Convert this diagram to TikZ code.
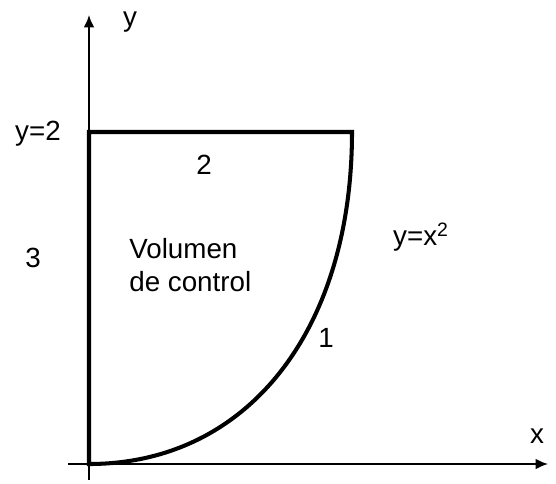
\documentclass[tikz,border=0pt]{standalone}
\usepackage{fontspec}
\setmainfont{Liberation Sans}
\usepackage{tikz}
\usetikzlibrary{arrows.meta}
\tikzstyle{axis} = [line width=1.1pt,-{Latex[length=7pt,width=6pt]}]
\tikzstyle{boundary} = [line width=2.3pt,line join=miter]
\tikzstyle{lbl} = [font=\fontsize{15.8}{18.5}\selectfont,inner sep=0pt]

\begin{document}
\begin{tikzpicture}
    \useasboundingbox (0,0) rectangle (11.12,9.66);
    \coordinate (o) at (1.78,0.38);
    \coordinate (a) at (1.78,7.02);
    \coordinate (b) at (7.04,7.02);
    \coordinate (xstart) at (1.36,0.38);
    \coordinate (xend) at (10.96,0.38);
    \coordinate (ystart) at (1.78,0.06);
    \coordinate (yend) at (1.78,9.36);

    % Axes
    \draw[axis] (xstart) -- (xend);
    \draw[axis] (ystart) -- (yend);
    \node[lbl] (xlab) at (10.74,0.94) {x};
    \node[lbl] (ylab) at (2.6,9.22) {y};

    % Control volume
    \draw[boundary] (o) .. controls (4.94,0.38) and (7.04,3.04) .. (b) -- (a) -- cycle;

    % Labels
    \node[lbl] (ytwo) at (0.76,6.98) {y=2};
    \node[lbl] (side2) at (4.08,6.36) {2};
    \node[lbl] (side3) at (0.66,4.50) {3};
    \node[lbl] (side1) at (6.52,2.90) {1};
    \node[lbl,align=left,anchor=west] (vc) at (2.58,4.36) {Volumen\\de control};
    \node[lbl] (curve) at (8.42,4.92) {y=x\textsuperscript{2}};
\end{tikzpicture}
\end{document}
